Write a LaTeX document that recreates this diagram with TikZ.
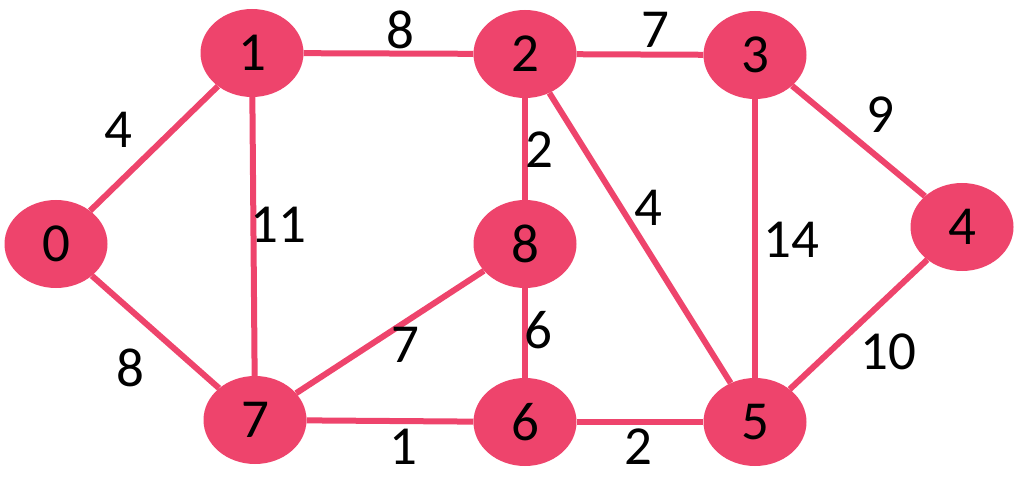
\documentclass[tikz,border=0pt]{standalone}
\usepackage{fontspec}
\setmainfont{Carlito}
\usetikzlibrary{shapes.geometric}

\definecolor{vertred}{RGB}{238,68,108}

\begin{document}
\begin{tikzpicture}[x=1pt, y=-1pt]

\useasboundingbox (0,0) rectangle (1024,478);

\begin{scope}[ellipse, minimum width=103pt, minimum height=88pt, inner sep=0pt, font=\fontsize{55}{62}\selectfont]
  \node[fill=vertred] (vert0) at (56,244) {0};
  \node[fill=vertred] (vert1) at (252,53) {1};
  \node[fill=vertred] (vert2) at (525,54) {2};
  \node[fill=vertred] (vert3) at (755,55) {3};
  \node[fill=vertred] (vert4) at (962,227) {4};
  \node[fill=vertred] (vert5) at (755,422) {5};
  \node[fill=vertred] (vert6) at (525,422) {6};
  \node[fill=vertred] (vert7) at (255,420) {7};
  \node[fill=vertred] (vert8) at (525,244) {8};
\end{scope}

\begin{scope}[vertred, line width=6pt]
  \draw (vert0) -- (vert1);
  \draw (vert1) -- (vert2);
  \draw (vert2) -- (vert3);
  \draw (vert3) -- (vert4);
  \draw (vert1) -- (vert7);
  \draw (vert2) -- (vert8);
  \draw (vert2) -- (vert5);
  \draw (vert3) -- (vert5);
  \draw (vert0) -- (vert7);
  \draw (vert7) -- (vert8);
  \draw (vert8) -- (vert6);
  \draw (vert4) -- (vert5);
  \draw (vert7) -- (vert6);
  \draw (vert6) -- (vert5);
\end{scope}

\begin{scope}[inner sep=0pt, font=\fontsize{55}{62}\selectfont]
  \node (wt01) at (118,130) {4};
  \node (wt12) at (400,30) {8};
  \node (wt23) at (655,30) {7};
  \node (wt34) at (880,115) {9};
  \node (wt17) at (278,225) {11};
  \node (wt28) at (539,150) {2};
  \node (wt25) at (648,208) {4};
  \node (wt35) at (791,240) {14};
  \node (wt07) at (130,368) {8};
  \node (wt78) at (405,345) {7};
  \node (wt86) at (538,330) {6};
  \node (wt45) at (888,352) {10};
  \node (wt76) at (403,447) {1};
  \node (wt65) at (638,447) {2};
\end{scope}

\end{tikzpicture}
\end{document}
